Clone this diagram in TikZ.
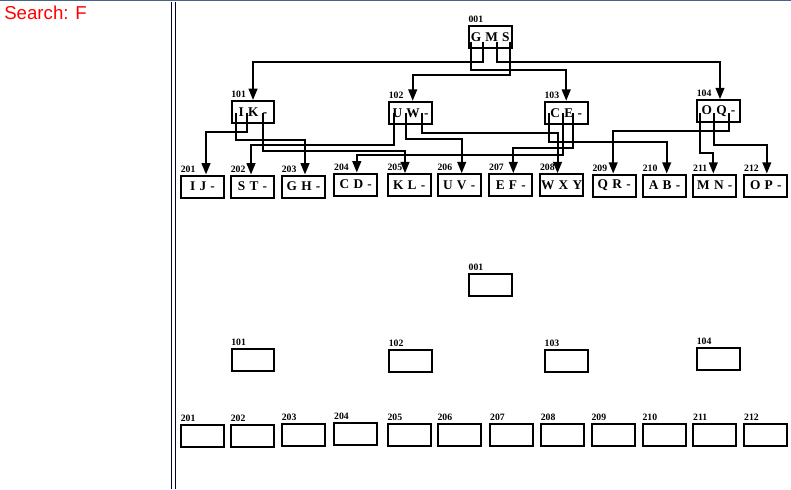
\documentclass[tikz,border=0pt]{standalone}
\usepackage{fontspec}
\setmainfont{Liberation Serif}
\newfontfamily\headsans{Liberation Sans}
\usetikzlibrary{arrows.meta}
\definecolor{frameblue}{RGB}{70,100,135}
\definecolor{railnavy}{RGB}{0,0,50}
\def\PX{0.75pt}
\def\keyfont{\bfseries\fontsize{10}{11}\selectfont\spaceskip=0.32em\relax}
\begin{document}
\begin{tikzpicture}[x=0.75pt,y=-0.75pt,
  keybox/.style={draw, line width=1.5pt, minimum width=32pt, minimum height=16.5pt,
    inner sep=0pt, font=\keyfont},
  numlbl/.style={anchor=south west, inner sep=0pt, xshift=0.3pt, yshift=1.6pt,
    font=\bfseries\fontsize{7.3}{8}\selectfont},
  ptr/.style={line width=1.5pt, line join=miter, -{Triangle[width=6.5pt,length=8.5pt]}},
]
\useasboundingbox (0,0) rectangle (791,489);

% frame: top rule and the double rail on the left
\draw[frameblue, line width=1.1pt] (0,0.7) -- (791,0.7);
\draw[railnavy, line width=1.1pt] (171.3,2) -- (171.3,489);
\draw[railnavy, line width=1.1pt] (175.7,2) -- (175.7,489);

\node[anchor=base west, inner sep=0pt, text=red,
  font=\headsans\fontsize{14}{16}\selectfont] (search) at (4,19.3) {Search: F};

% ---------- filled tree ----------
\node[keybox] (n001) at (490.2,37) {G M S};
\node[numlbl] (t001) at (n001.north west) {001};

\foreach \id/\x/\y/\txt in {101/253/112/{I K -}, 102/410.5/112.8/{U W -},
    103/566.2/112.8/{C E -}, 104/718.5/111.2/{O Q -}} {
  \node[keybox] (n\id) at (\x,\y) {\txt};
  \node[numlbl] (t\id) at (n\id.north west) {\id};
}

\foreach \id/\x/\y/\txt in {201/202.5/186.5/{I J -}, 202/252.5/186.5/{S T -},
    203/303.5/186.5/{G H -}, 204/355.8/184.5/{C D -}, 205/409.2/185.2/{K L -},
    206/459.2/185.2/{U V -}, 207/510.8/185.2/{E F -}, 208/561.7/185.2/{W X Y},
    209/614.2/185.6/{Q R -}, 210/664.5/185.6/{A B -}, 211/714.8/185.6/{M N -},
    212/765.8/185.6/{O P -}} {
  \node[keybox] (l\id) at (\x,\y) {\txt};
  \node[numlbl] (tl\id) at (l\id.north west) {\id};
}

% child pointers of the root
\coordinate (r0) at (471,41.5);
\coordinate (r1) at (482.7,41.5);
\coordinate (r2) at (497,41.5);
\coordinate (r3) at (510,41.5);
\draw[ptr] (r0) -- (r0 |- 0,70) -| (n103.north);
\draw[ptr] (r1) -- (r1 |- 0,62) -| (n101.north);
\draw[ptr] (r2) -- (r2 |- 0,62) -| ([xshift=1.5*\PX]n104.north);
\draw[ptr] (r3) -- (r3 |- 0,75) -| ([xshift=2.2*\PX]n102.north);

% child pointers of 101
\coordinate (a0) at (235.7,113);
\coordinate (a1) at (247.3,113);
\coordinate (a2) at (262.7,113);
\draw[ptr] (a0) -- (a0 |- 0,140) -| ([xshift=1.5*\PX]l203.north);
\draw[ptr] (a1) -- (a1 |- 0,131.7) -| ([xshift=3.5*\PX]l201.north);
\draw[ptr] (a2) -- (a2 |- 0,151.2) -| ([xshift=-4.2*\PX]l205.north);

% child pointers of 102
\coordinate (b0) at (394.3,113);
\coordinate (b1) at (405.7,113);
\coordinate (b2) at (421.7,113);
\draw[ptr] (b0) -- (b0 |- 0,145) -| ([xshift=-1.5*\PX]l202.north);
\draw[ptr] (b1) -- (b1 |- 0,139.3) -| ([xshift=2.5*\PX]l206.north);
\draw[ptr] (b2) -- (b2 |- 0,132.7) -| ([xshift=-4.2*\PX]l208.north);

% child pointers of 103
\coordinate (c0) at (549,113);
\coordinate (c1) at (562.7,113);
\coordinate (c2) at (573.3,113);
\draw[ptr] (c0) -- (c0 |- 0,141.7) -| ([xshift=2.2*\PX]l210.north);
\draw[ptr] (c1) -- (c1 |- 0,155) -| ([xshift=1*\PX]l204.north);
\draw[ptr] (c2) -- (c2 |- 0,148.3) -| ([xshift=2.5*\PX]l207.north);

% child pointers of 104
\coordinate (d0) at (700,113);
\coordinate (d1) at (714,113);
\coordinate (d2) at (729,113);
\draw[ptr] (d0) -- (d0 |- 0,153.3) -| ([xshift=-1.5*\PX]l211.north);
\draw[ptr] (d1) -- (d1 |- 0,145) -| ([xshift=1*\PX]l212.north);
\draw[ptr] (d2) -- (d2 |- 0,130.7) -| ([xshift=-1*\PX]l209.north);

% ---------- empty tree ----------
\node[keybox] (e001) at (490.3,284.7) {};
\node[numlbl] (te001) at (e001.north west) {001};

\foreach \id/\x/\y in {101/253/360, 102/410.5/360.5, 103/566.3/360.8, 104/718.5/358.8} {
  \node[keybox] (e\id) at (\x,\y) {};
  \node[numlbl] (te\id) at (e\id.north west) {\id};
}

\foreach \id/\x/\y in {201/202.5/435.8, 202/252.5/435.8, 203/303.5/435.3,
    204/355.8/433.5, 205/409.2/434.8, 206/459.2/434.8, 207/511.8/434.5,
    208/562.5/434.5, 209/613.2/434.5, 210/664.2/434.5, 211/714.8/434.5,
    212/765.8/434.5} {
  \node[keybox] (e\id) at (\x,\y) {};
  \node[numlbl] (te\id) at (e\id.north west) {\id};
}
\end{tikzpicture}
\end{document}
